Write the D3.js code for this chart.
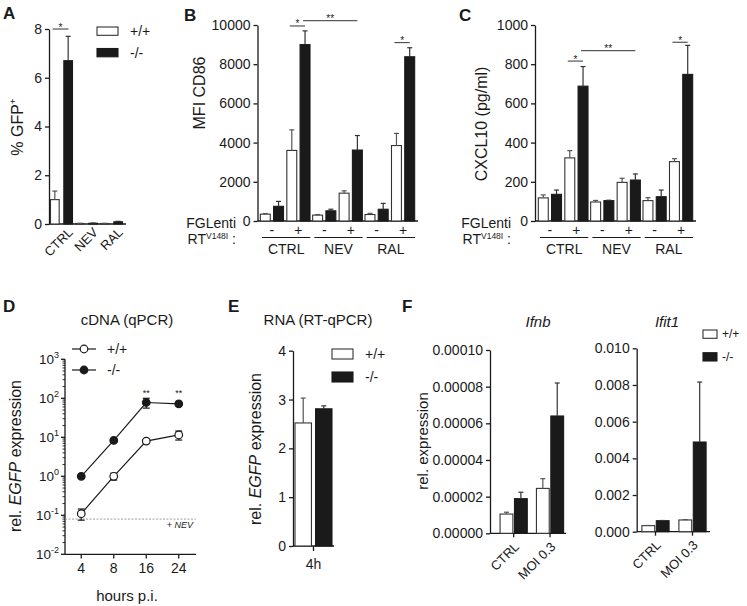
<!DOCTYPE html>
<html><head><meta charset="utf-8">
<script src="https://cdn.jsdelivr.net/npm/d3@7"></script>
<style>
body{margin:0;background:#fff}
svg{display:block}
</style>
</head><body>
<svg id="c" width="747" height="606"></svg>
<script>
// ---------------- DATA ----------------
// Panel A: % GFP+
const aCats = ["CTRL", "NEV", "RAL"];
const aWT = [1.0, 0.02, 0.02];
const aWTErr = [0.35, 0.01, 0.01];
const aKO = [6.7, 0.03, 0.09];
const aKOErr = [1.0, 0.01, 0.02];
const aTicks = [0, 2, 4, 6, 8];

// Panels B and C: groups x (FGLenti -/+ , genotype)
const grpCats = ["CTRL", "NEV", "RAL"];
const conds = ["WT-", "KO-", "WT+", "KO+"];
const signLabels = ["-", "+"];

const bWTminus = [350, 300, 330];    const bWTminusErr = [30, 30, 60];
const bKOminus = [750, 520, 600];    const bKOminusErr = [250, 80, 300];
const bWTplus  = [3600, 1420, 3850]; const bWTplusErr  = [1050, 120, 620];
const bKOplus  = [9000, 3620, 8380]; const bKOplusErr  = [700, 740, 460];
const bTicks = [0, 2000, 4000, 6000, 8000, 10000];
const bBrackets = [
  {g1: "CTRL", c1: "WT+", g2: "CTRL", c2: "KO+", v: 9950, label: "*"},
  {g1: "CTRL", c1: "KO+", g2: "NEV", c2: "KO+", v: 10220, label: "**"},
  {g1: "RAL", c1: "WT+", g2: "RAL", c2: "KO+", v: 9100, label: "*"}
];

const cWTminus = [118, 97, 104];  const cWTminusErr = [15, 8, 15];
const cKOminus = [136, 104, 124]; const cKOminusErr = [22, 2, 34];
const cWTplus  = [322, 197, 303]; const cWTplusErr  = [37, 21, 15];
const cKOplus  = [688, 209, 748]; const cKOplusErr  = [100, 31, 148];
const cTicks = [0, 200, 400, 600, 800, 1000];
const cBrackets = [
  {g1: "CTRL", c1: "WT+", g2: "CTRL", c2: "KO+", v: 816, label: "*"},
  {g1: "CTRL", c1: "KO+", g2: "NEV", c2: "KO+", v: 869, label: "**"},
  {g1: "RAL", c1: "WT+", g2: "RAL", c2: "KO+", v: 912, label: "*"}
];

// Panel D: cDNA (qPCR), log scale
const dTimes = ["4", "8", "16", "24"];
const dWT = [0.11, 1.0, 8.0, 11.5];
const dWTErr = [0.035, 0.2, 0.8, 3.0];
const dKO = [1.0, 8.3, 78, 72];
const dKOErr = [0.05, 0.6, 22, 6];
const dSig = ["", "", "**", "**"];
const dNEV = 0.08;
const dExps = [-2, -1, 0, 1, 2, 3];

// Panel E: RNA (RT-qPCR)
const eCats = ["4h"];
const eWT = [2.52]; const eWTErr = [0.51];
const eKO = [2.81]; const eKOErr = [0.06];
const eTicks = [0, 1, 2, 3, 4];

// Panel F
const fCats = ["CTRL", "MOI 0.3"];
const fIfnbWT = [1.05e-5, 2.45e-5]; const fIfnbWTErr = [0.1e-5, 0.53e-5];
const fIfnbKO = [1.89e-5, 6.4e-5];  const fIfnbKOErr = [0.35e-5, 1.8e-5];
const fIfnbTicks = [0, 0.00002, 0.00004, 0.00006, 0.00008, 0.0001];
const fIfit1WT = [0.00033, 0.00064]; const fIfit1WTErr = [0.00001, 0.00002];
const fIfit1KO = [0.0006, 0.00489];  const fIfit1KOErr = [0.00001, 0.00327];
const fIfit1Ticks = [0, 0.002, 0.004, 0.006, 0.008, 0.01];

// ---------------- DRAWING ----------------
const FONT = '"Liberation Sans", Arial, Helvetica, sans-serif';
const INK = "#1a1a1a";
const svg = d3.select("#c");

function txt(x, y, s, opts = {}) {
  const t = svg.append("text").attr("x", x).attr("y", y).text(s)
    .attr("font-family", FONT).attr("font-size", opts.size || 14).attr("fill", INK)
    .attr("text-anchor", opts.anchor || "start");
  if (opts.bold) t.attr("font-weight", "bold");
  if (opts.italic) t.attr("font-style", "italic");
  if (opts.fill) t.attr("fill", opts.fill);
  return t;
}
function ln(x1, y1, x2, y2, opts = {}) {
  return svg.append("line").attr("x1", x1).attr("y1", y1).attr("x2", x2).attr("y2", y2)
    .attr("stroke", opts.stroke || INK).attr("stroke-width", opts.w || 1.2)
    .attr("stroke-dasharray", opts.dash || null);
}
function styleAxis(g, fs) {
  g.attr("font-family", FONT).attr("font-size", fs);
  g.select(".domain").attr("stroke", INK).attr("stroke-width", 1.3);
  g.selectAll(".tick line").attr("stroke", INK).attr("stroke-width", 1.3);
  g.selectAll(".tick text").attr("fill", INK);
}
function yTitle(x, y, parts, size) {
  const t = svg.append("text").attr("transform", `translate(${x},${y}) rotate(-90)`)
    .attr("text-anchor", "middle").attr("dy", "0.35em")
    .attr("font-family", FONT).attr("font-size", size).attr("fill", INK);
  parts.forEach(p => {
    const ts = t.append("tspan").text(p.t);
    if (p.italic) ts.attr("font-style", "italic");
    if (p.sup) ts.attr("font-size", size * 0.62).attr("dy", -size * 0.42);
  });
  return t;
}
function bar(x, w, yTop, yBase, isKO) {
  svg.append("rect").attr("x", x).attr("y", yTop).attr("width", w)
    .attr("height", Math.max(0, yBase - yTop))
    .attr("fill", isKO ? INK : "#fff").attr("stroke", isKO ? INK : "#333").attr("stroke-width", 1.1);
}
function errUp(xc, yv, ye, isKO, cap = 2.5) {
  const c = isKO ? "#333" : "#555";
  ln(xc, yv, xc, ye, {stroke: c, w: 1.2});
  ln(xc - cap, ye, xc + cap, ye, {stroke: c, w: 1.2});
}
function star(xc, y, s) {
  txt(xc, y + 2.5, s, {size: 10, anchor: "middle"});
}
function legendBoxes(x, y1, y2, w, h, tx, fs) {
  svg.append("rect").attr("x", x).attr("y", y1).attr("width", w).attr("height", h)
    .attr("fill", "#fff").attr("stroke", "#333").attr("stroke-width", 1.1);
  svg.append("rect").attr("x", x).attr("y", y2).attr("width", w).attr("height", h)
    .attr("fill", INK).attr("stroke", INK).attr("stroke-width", 1.1);
  txt(tx, y1 + h / 2, "+/+", {size: fs}).attr("dy", "0.35em");
  txt(tx, y2 + h / 2, "-/-", {size: fs}).attr("dy", "0.35em");
}

// ---------- Panel A ----------
(function () {
  txt(3, 19, "A", {size: 17, bold: true});
  const y = d3.scaleLinear().domain([0, 8]).range([224, 29]);
  const x = d3.scaleBand().domain(aCats).range([49, 124]);
  const sub = d3.scaleBand().domain(["WT", "KO"]).range([1.5, 23.5]).paddingInner(0.35);
  const g = svg.append("g").attr("transform", "translate(49,0)")
    .call(d3.axisLeft(y).tickValues(aTicks).tickSize(4).tickSizeOuter(0).tickPadding(3));
  styleAxis(g, 14);
  ln(49, 224, 126, 224, {w: 1.3});
  aCats.forEach((c, i) => {
    const xw = x(c) + sub("WT"), xk = x(c) + sub("KO"), bw = sub.bandwidth();
    bar(xw, bw, y(aWT[i]), y(0), false);
    errUp(xw + bw / 2, y(aWT[i]), y(aWT[i] + aWTErr[i]), false);
    bar(xk, bw, y(aKO[i]), y(0), true);
    errUp(xk + bw / 2, y(aKO[i]), y(aKO[i] + aKOErr[i]), true);
    svg.append("text").attr("transform", `translate(${x(c) + x.bandwidth() / 2 + 9},230) rotate(-45)`)
      .attr("text-anchor", "end").attr("dy", "0.35em").attr("font-family", FONT)
      .attr("font-size", 13).attr("fill", INK).text(c);
  });
  // significance
  const x1 = x("CTRL") + sub("WT") + 2, x2 = x("CTRL") + sub("KO") + sub.bandwidth() - 4;
  ln(x1, y(8), x2, y(8), {w: 1, stroke: "#333"});
  star((x1 + x2) / 2, y(8) - 1, "*");
  yTitle(17, 127, [{t: "% GFP"}, {t: "+", sup: true}], 16);
  legendBoxes(97, 27, 48.5, 21, 8.3, 130, 14);
})();

// ---------- Panels B & C ----------
function groupedPanel(cfg) {
  txt(cfg.letterX, 21, cfg.letter, {size: 17, bold: true});
  const y = d3.scaleLinear().domain([0, cfg.max]).range([221, 25]);
  const gx = d3.scaleBand().domain(grpCats).range(cfg.xr);
  const cx = d3.scaleBand().domain(conds).range([0, gx.bandwidth()]).paddingInner(0.25).paddingOuter(0.1);
  const g = svg.append("g").attr("transform", `translate(${cfg.ax},0)`)
    .call(d3.axisLeft(y).tickValues(cfg.ticks).tickSize(4).tickSizeOuter(0).tickPadding(3).tickFormat(d3.format("d")));
  styleAxis(g, 14);
  ln(cfg.ax, 221, cfg.xr[1] + 2, 221, {w: 1.3});
  const bw = cx.bandwidth();
  cfg.series.forEach((s, si) => {
    const isKO = si % 2 === 1;
    s.v.forEach((v, gi) => {
      const xx = gx(grpCats[gi]) + cx(conds[si]);
      bar(xx, bw, y(v), y(0), isKO);
      errUp(xx + bw / 2, y(v), y(v + s.e[gi]), isKO);
    });
  });
  grpCats.forEach(gc => {
    const g0 = gx(gc);
    const m = (g0 + cx("WT-") + g0 + cx("KO-") + bw) / 2;
    const p = (g0 + cx("WT+") + g0 + cx("KO+") + bw) / 2;
    txt(m, 235, signLabels[0], {size: 14, anchor: "middle"});
    txt(p, 235, signLabels[1], {size: 14, anchor: "middle"});
    ln(g0 + 3, 237.5, g0 + gx.bandwidth() - 1, 237.5, {w: 1.2});
    txt(g0 + gx.bandwidth() / 2 + 1, 254, gc, {size: 14, anchor: "middle"});
  });
  cfg.brackets.forEach(b => {
    const x1 = gx(b.g1) + cx(b.c1) + bw / 2 - 2, x2 = gx(b.g2) + cx(b.c2) + bw / 2;
    ln(x1, y(b.v), x2, y(b.v), {w: 1, stroke: "#333"});
    star((x1 + x2) / 2, y(b.v) - 1, b.label);
  });
  txt(cfg.labX, 228, "FGLenti", {size: 14, anchor: "end"});
  const rt = txt(cfg.labX, 244, "RT", {size: 14, anchor: "end"});
  rt.append("tspan").text("V148I").attr("font-size", 8.5).attr("dy", -5);
  rt.append("tspan").text(" :").attr("dy", 5);
  yTitle(cfg.titleX, cfg.titleY, [{t: cfg.title}], 16);
}
groupedPanel({
  letter: "B", letterX: 184, ax: 257.5, xr: [259, 416], max: 10000, ticks: bTicks,
  series: [{v: bWTminus, e: bWTminusErr}, {v: bKOminus, e: bKOminusErr},
           {v: bWTplus, e: bWTplusErr}, {v: bKOplus, e: bKOplusErr}],
  brackets: bBrackets, labX: 236, title: "MFI CD86", titleX: 199, titleY: 93
});
groupedPanel({
  letter: "C", letterX: 459, ax: 535, xr: [537, 694], max: 1000, ticks: cTicks,
  series: [{v: cWTminus, e: cWTminusErr}, {v: cKOminus, e: cKOminusErr},
           {v: cWTplus, e: cWTplusErr}, {v: cKOplus, e: cKOplusErr}],
  brackets: cBrackets, labX: 511, title: "CXCL10 (pg/ml)", titleX: 481, titleY: 124
});

// ---------- Panel D ----------
(function () {
  txt(3, 312, "D", {size: 17, bold: true});
  txt(127, 325, "cDNA (qPCR)", {size: 15, anchor: "middle"});
  const y = d3.scaleLog().domain([0.01, 1000]).range([554.3, 359.3]);
  const x = d3.scalePoint().domain(dTimes).range([65, 195]).padding(0.5);
  const ax = 65;
  ln(ax, 359.3, ax, 554.3, {w: 1.3});
  ln(ax, 554.3, 196, 554.3, {w: 1.3});
  dExps.forEach(e => {
    const v = Math.pow(10, e);
    ln(ax - 4, y(v), ax, y(v), {w: 1.3});
    const t = txt(ax - 6, y(v), "", {size: 13.5, anchor: "end"}).attr("dy", "0.35em");
    t.append("tspan").text("10");
    t.append("tspan").text(String(e)).attr("font-size", 9).attr("dy", -6);
    if (e < 3) {
      for (let k = 2; k <= 9; k++) ln(ax - 2.5, y(k * v), ax, y(k * v), {w: 0.9});
    }
  });
  dTimes.forEach(t => {
    ln(x(t), 554.3, x(t), 558.5, {w: 1.3});
    txt(x(t), 573, t, {size: 14, anchor: "middle"});
  });
  txt(127, 601, "hours p.i.", {size: 15, anchor: "middle"});
  yTitle(15, 456, [{t: "rel. "}, {t: "EGFP", italic: true}, {t: " expression"}], 16);
  // NEV dashed line
  ln(ax, y(dNEV), 196, y(dNEV), {w: 0.8, stroke: "#888", dash: "2,1.5"});
  txt(193, y(dNEV) + 9, "+ NEV", {size: 9, anchor: "end", italic: true});
  const line = d3.line().x((d, i) => x(dTimes[i])).y(d => y(d));
  [[dWT, dWTErr, false], [dKO, dKOErr, true]].forEach(([vals, errs, filled]) => {
    svg.append("path").datum(vals).attr("d", line).attr("fill", "none").attr("stroke", INK).attr("stroke-width", 1.2);
    vals.forEach((v, i) => {
      const xc = x(dTimes[i]);
      const lo = y(Math.max(v - errs[i], 0.011)), hi = y(v + errs[i]);
      ln(xc, lo, xc, hi, {w: 1.2});
      ln(xc - 3.5, lo, xc + 3.5, lo, {w: 1.2});
      ln(xc - 3.5, hi, xc + 3.5, hi, {w: 1.2});
      svg.append("circle").attr("cx", xc).attr("cy", y(v)).attr("r", 3.8)
        .attr("fill", filled ? INK : "#fff").attr("stroke", INK).attr("stroke-width", 1.2);
    });
  });
  dSig.forEach((s, i) => { if (s) txt(x(dTimes[i]), 396, s, {size: 9, anchor: "middle"}); });
  // legend
  [[349, false, "+/+"], [370, true, "-/-"]].forEach(([ly, filled, lab]) => {
    ln(72, ly, 96, ly, {w: 1.2});
    svg.append("circle").attr("cx", 84).attr("cy", ly).attr("r", 3.8)
      .attr("fill", filled ? INK : "#fff").attr("stroke", INK).attr("stroke-width", 1.2);
    txt(107, ly, lab, {size: 14}).attr("dy", "0.35em");
  });
})();

// ---------- Panel E ----------
(function () {
  txt(228, 312, "E", {size: 17, bold: true});
  txt(318, 325, "RNA (RT-qPCR)", {size: 15, anchor: "middle"});
  const y = d3.scaleLinear().domain([0, 4]).range([546, 350.7]);
  const x = d3.scaleBand().domain(eCats).range([294, 333]);
  const sub = d3.scaleBand().domain(["WT", "KO"]).range([1, 38]).paddingInner(0.2);
  const g = svg.append("g").attr("transform", "translate(293,0)")
    .call(d3.axisLeft(y).tickValues(eTicks).tickSize(4).tickSizeOuter(0).tickPadding(3).tickFormat(d3.format("d")));
  styleAxis(g, 14);
  ln(293, 546, 334, 546, {w: 1.3});
  eCats.forEach((c, i) => {
    const bw = sub.bandwidth();
    const xw = x(c) + sub("WT"), xk = x(c) + sub("KO");
    bar(xw, bw, y(eWT[i]), y(0), false);
    errUp(xw + bw / 2, y(eWT[i]), y(eWT[i] + eWTErr[i]), false);
    bar(xk, bw, y(eKO[i]), y(0), true);
    errUp(xk + bw / 2, y(eKO[i]), y(eKO[i] + eKOErr[i]), true);
    const xc = x(c) + x.bandwidth() / 2;
    ln(xc, 546, xc, 551, {w: 1.3});
    txt(xc, 569, c, {size: 14, anchor: "middle"});
  });
  yTitle(255, 449, [{t: "rel. "}, {t: "EGFP", italic: true}, {t: " expression"}], 16);
  legendBoxes(332, 349, 372, 21, 10, 365, 14);
})();

// ---------- Panel F ----------
function fPanel(cfg) {
  const y = d3.scaleLinear().domain([0, cfg.max]).range([cfg.y0, cfg.yTop]);
  const x = d3.scaleBand().domain(fCats).range(cfg.xr);
  const g = svg.append("g").attr("transform", `translate(${cfg.ax},0)`)
    .call(d3.axisLeft(y).tickValues(cfg.ticks).tickSize(4).tickSizeOuter(0).tickPadding(3)
      .tickFormat(d3.format(cfg.fmt)));
  styleAxis(g, 14);
  ln(cfg.ax, cfg.y0, cfg.xEnd, cfg.y0, {w: 1.3});
  txt(cfg.titleX, 327, cfg.title, {size: 15, anchor: "middle", italic: true});
  fCats.forEach((c, i) => {
    const xc = x(c) + x.bandwidth() / 2;
    const bw = 12.8;
    bar(xc - bw - 0.8, bw, y(cfg.wt[i]), y(0), false);
    errUp(xc - bw / 2 - 0.8, y(cfg.wt[i]), y(cfg.wt[i] + cfg.wtE[i]), false);
    bar(xc + 0.8, bw, y(cfg.ko[i]), y(0), true);
    errUp(xc + bw / 2 + 0.8, y(cfg.ko[i]), y(cfg.ko[i] + cfg.koE[i]), true);
    ln(xc, cfg.y0, xc, cfg.y0 + 4, {w: 1.3});
    svg.append("text").attr("transform", `translate(${xc + 3},${cfg.y0 + 11}) rotate(-45)`)
      .attr("text-anchor", "end").attr("dy", "0.35em").attr("font-family", FONT)
      .attr("font-size", 13).attr("fill", INK).text(c);
  });
}
txt(402, 312, "F", {size: 17, bold: true});
fPanel({ax: 490, xr: [495.5, 568.2], xEnd: 566, y0: 533.3, yTop: 350, max: 0.0001,
  ticks: fIfnbTicks, fmt: ".5f", title: "Ifnb", titleX: 538,
  wt: fIfnbWT, wtE: fIfnbWTErr, ko: fIfnbKO, koE: fIfnbKOErr});
fPanel({ax: 636.7, xr: [637, 711], xEnd: 710, y0: 531.7, yTop: 348.3, max: 0.01,
  ticks: fIfit1Ticks, fmt: ".3f", title: "Ifit1", titleX: 667,
  wt: fIfit1WT, wtE: fIfit1WTErr, ko: fIfit1KO, koE: fIfit1KOErr});
yTitle(423, 441, [{t: "rel. expression"}], 15);
legendBoxes(703, 330, 352.7, 14, 8.3, 722, 12);
</script>
</body></html>
